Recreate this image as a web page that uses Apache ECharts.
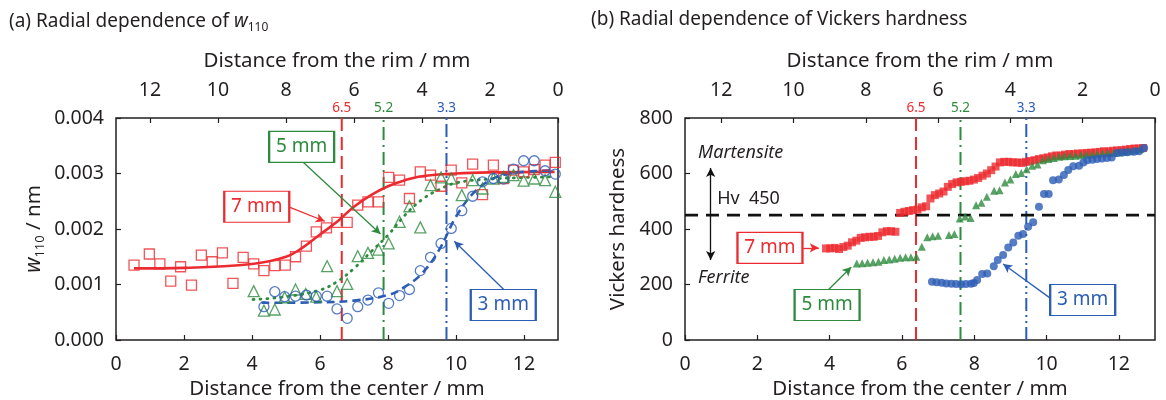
<!DOCTYPE html>
<html><head><meta charset="utf-8">
<script src="https://cdn.jsdelivr.net/npm/echarts@6/dist/echarts.min.js"></script>
<style>html,body{margin:0;padding:0;background:#fff}#c{width:1166px;height:400px}</style>
</head><body><div id="c"></div>
<script>
// ---------- data: panel (a) w110 [x in mm from center, y in 0.001 nm] ----------
const w7x = [0.53,0.98,1.29,1.61,1.90,2.22,2.51,2.83,3.13,3.44,3.74,4.05,4.35,4.67,4.98,5.28,5.60,5.89,6.19,6.50,6.80,7.11,7.41,7.72,8.02,8.34,8.63,8.95,9.25,9.56,9.86,10.17,10.49,10.78,11.10,11.40,11.69,11.99,12.30,12.62,12.92];
const w7y = [1.35,1.55,1.37,1.06,1.32,0.99,1.53,1.41,1.57,1.02,1.49,1.37,1.25,1.34,1.35,1.50,1.69,1.95,2.02,2.12,2.12,2.43,2.49,2.49,2.93,2.88,2.55,3.03,2.97,2.77,3.06,2.83,3.17,2.62,3.15,2.91,3.06,3.03,3.07,3.15,3.20];
const w5x = [4.05,4.35,4.67,4.96,5.28,5.58,5.89,6.21,6.50,6.80,7.11,7.41,7.72,8.02,8.34,8.63,8.95,9.25,9.56,9.86,10.17,10.49,10.78,11.10,11.40,11.69,11.99,12.30,12.62,12.92];
const w5y = [0.88,0.53,0.55,0.77,0.91,0.83,0.78,1.33,0.88,1.01,1.51,1.57,1.63,1.74,2.13,2.41,2.03,2.79,2.93,2.91,2.61,2.88,2.73,2.91,2.94,2.97,2.87,2.91,2.88,2.67];
const w3x = [4.35,4.67,4.96,5.28,5.60,5.89,6.21,6.50,6.80,7.11,7.41,7.72,8.02,8.34,8.63,8.95,9.25,9.56,9.86,10.17,10.49,10.78,11.10,11.40,11.69,11.99,12.30,12.62,12.92];
const w3y = [0.60,0.87,0.78,0.79,0.81,0.79,0.79,0.56,0.39,0.60,0.72,0.85,0.66,0.80,0.91,1.25,1.49,1.74,2.01,2.33,2.59,2.85,2.91,2.90,3.08,3.23,3.23,3.05,2.99];
// fitted curves
const fit7x = [0.53,2,4,5,5.5,6,6.5,7,7.5,8,8.5,9,10,11,12.9];
const fit7y = [1.29,1.30,1.37,1.50,1.67,1.90,2.13,2.40,2.61,2.77,2.88,2.95,3.00,3.02,3.03];
const fit5x = [4.03,5,6,6.5,7,7.5,8,8.5,9,9.5,10,11,12.9];
const fit5y = [0.73,0.78,0.90,1.05,1.29,1.59,1.89,2.25,2.53,2.71,2.83,2.90,2.94];
const fit3x = [4.28,6,7,8,8.5,9,9.5,10,10.5,11,11.5,12,12.9];
const fit3y = [0.67,0.68,0.71,0.81,0.96,1.20,1.62,2.22,2.64,2.88,2.99,3.03,3.06];

// ---------- data: panel (b) Vickers hardness ----------
const h7x = [3.90,4.02,4.14,4.26,4.38,4.50,4.62,4.74,4.86,4.98,5.10,5.22,5.34,5.46,5.58,5.70,5.82,5.95,6.07,6.19,6.31,6.43,6.55,6.67,6.79,6.91,7.03,7.15,7.27,7.39,7.51,7.63,7.75,7.87,7.99,8.11,8.23,8.35,8.47,8.59,8.71,8.83,8.95,9.07,9.19,9.31,9.43,9.55,9.67,9.79,9.91,10.03,10.15,10.27,10.39,10.51,10.63,10.75,10.87,10.99,11.11,11.23,11.35,11.47,11.59,11.71,11.83,11.95,12.07,12.19,12.31,12.43,12.55,12.67];
const h7y = [330,330,332,328,335,340,352,358,368,370,372,372,375,388,392,392,390,458,462,465,468,470,478,482,510,522,528,535,552,562,568,570,572,574,578,584,592,600,612,625,640,642,642,640,640,638,642,645,648,652,655,658,662,665,664,668,670,670,672,672,674,675,676,678,680,679,682,683,684,686,688,690,690,692];
const h5x = [4.75,4.90,5.05,5.20,5.35,5.50,5.65,5.80,5.95,6.10,6.25,6.40,6.55,6.70,6.85,7.00,7.30,7.45,7.60,7.75,7.90,8.05,8.20,8.35,8.55,8.70,8.85,9.00,9.15,9.30,9.45,9.60,9.75,9.90,10.05,10.20,10.35,10.50,10.65,10.80,10.95,11.10,11.25,11.40,11.55,11.70,11.85,12.00,12.15,12.30,12.45,12.60];
const h5y = [276,277,278,280,282,288,290,293,296,298,298,300,336,370,374,376,378,382,438,445,440,486,495,516,538,540,568,578,598,602,615,628,632,648,652,656,660,662,663,664,666,668,668,670,672,674,674,676,678,680,684,688];
const h3x = [6.83,6.96,7.10,7.23,7.37,7.50,7.64,7.77,7.91,7.99,8.08,8.22,8.36,8.54,8.65,8.80,8.94,9.08,9.22,9.35,9.49,9.63,9.79,9.93,10.06,10.18,10.34,10.48,10.60,10.74,10.90,11.02,11.13,11.27,11.40,11.53,11.67,11.80,11.96,12.10,12.24,12.42,12.56,12.70];
const h3y = [210,208,206,204,203,202,201,202,203,205,216,238,240,266,288,306,333,351,376,382,408,424,480,526,526,576,578,595,613,626,628,640,648,650,652,654,656,658,674,676,677,678,680,692];

// boundary lines (distance from center) and their rim labels
const linesA = [6.64, 7.87, 9.72];
const linesB = [6.39, 7.62, 9.44];
const lineLabels = ['6.5', '5.2', '3.3'];
const hvLevel = 450;
const xTicks = {min: 0, max: 13, interval: 2};
const yTicksA = {min: 0, max: 0.004, interval: 0.001};
const yTicksB = {min: 0, max: 800, interval: 200};

// ---------- styling ----------
const RED = '#ec2b30', GREEN = '#2e8b3e', BLUE = '#2c5db5', INK = '#231f20';
const FONT = '"Noto Sans", "Open Sans", sans-serif';
const TICK = 19.5, NAME = 20.5;
const lineColors = [RED, GREEN, BLUE];
const lineDash = [[13, 6], [13, 5, 2, 5], [13, 4, 2, 4, 2, 4]];

const zip = (xs, ys, k) => xs.map((x, i) => [x, ys[i] * k]);

function bottomAxis(g) {
  return {type: 'value', gridIndex: g, position: 'bottom', min: xTicks.min, max: xTicks.max, interval: xTicks.interval,
    axisLine: {show: false}, splitLine: {show: false},
    axisTick: {inside: true, length: 5, lineStyle: {color: INK, width: 1.2}},
    axisLabel: {margin: 14, fontSize: TICK, color: INK, fontFamily: FONT, showMaxLabel: false},
    name: 'Distance from the center / mm', nameLocation: 'middle', nameGap: 35,
    nameTextStyle: {fontSize: NAME, color: INK, fontFamily: FONT}};
}
function topAxis(g) {
  return {type: 'value', gridIndex: g, position: 'top', inverse: true, min: xTicks.min, max: xTicks.max, interval: xTicks.interval,
    axisLine: {show: false}, splitLine: {show: false},
    axisTick: {inside: true, length: 5, lineStyle: {color: INK, width: 1.2}},
    axisLabel: {margin: 18, fontSize: TICK, color: INK, fontFamily: FONT, showMaxLabel: false},
    name: 'Distance from the rim / mm', nameLocation: 'middle', nameGap: 46,
    nameTextStyle: {fontSize: NAME, color: INK, fontFamily: FONT}};
}
function vline(x, i, xi, yi, ymax) {
  return {type: 'line', xAxisIndex: xi, yAxisIndex: yi, symbol: 'circle', symbolSize: 0, silent: true, z: 1,
    itemStyle: {color: lineColors[i]},
    lineStyle: {color: lineColors[i], width: 2, type: lineDash[i]},
    data: [[x, 0], {value: [x, ymax], label: {show: true, position: 'top', distance: 3, formatter: lineLabels[i], color: lineColors[i], fontSize: 13.5, fontFamily: FONT}}]};
}
function box(coord, text, color) {
  return {coord, symbol: 'rect', symbolSize: [65, 31], itemStyle: {color: '#fff', borderColor: color, borderWidth: 1.6},
    label: {show: true, position: 'inside', formatter: text, color, fontSize: 19, fontFamily: FONT}};
}
function arrows(pairs, color, syms) {
  return {silent: true, symbol: syms || ['none', 'arrow'], symbolSize: [7, 9], animation: false,
    lineStyle: {color, width: 1.3, type: 'solid'}, label: {show: false},
    data: pairs.map(p => [{coord: p[0]}, {coord: p[1]}])};
}
function txt(coord, text, extra) {
  return {coord, symbol: 'circle', symbolSize: 0, itemStyle: {color: 'transparent'},
    label: Object.assign({show: true, position: 'right', distance: 0, formatter: text, color: INK, fontSize: 18, fontFamily: FONT}, extra || {})};
}
const hollow = c => ({color: 'rgba(255,255,255,0)', borderColor: c, borderWidth: 1.3});
const k = 0.001;

const option = {
  animation: false,
  backgroundColor: '#fff',
  title: [
    {left: 4, top: 5, text: '(a) Radial dependence of {i|w}{s|110}',
      textStyle: {fontSize: 19, fontWeight: 'normal', color: INK, fontFamily: FONT,
        rich: {i: {fontSize: 19, fontStyle: 'italic', color: INK, fontFamily: FONT, lineHeight: 24},
               s: {fontSize: 12, color: INK, fontFamily: FONT, verticalAlign: 'bottom', lineHeight: 12}}}},
    {left: 586, top: 5, text: '(b) Radial dependence of Vickers hardness',
      textStyle: {fontSize: 19, fontWeight: 'normal', color: INK, fontFamily: FONT}}
  ],
  grid: [
    {left: 116, top: 118, width: 442, height: 222, outerBoundsMode: 'none', containLabel: false,
      show: true, borderColor: INK, borderWidth: 1.5, backgroundColor: 'transparent'},
    {left: 685, top: 118, width: 470, height: 222, outerBoundsMode: 'none', containLabel: false,
      show: true, borderColor: INK, borderWidth: 1.5, backgroundColor: 'transparent'}
  ],
  xAxis: [bottomAxis(0), topAxis(0), bottomAxis(1), topAxis(1)],
  yAxis: [
    {type: 'value', gridIndex: 0, min: yTicksA.min, max: yTicksA.max, interval: yTicksA.interval,
      axisLine: {show: false}, splitLine: {show: false},
      axisTick: {inside: true, length: 5, lineStyle: {color: INK, width: 1.2}},
      axisLabel: {margin: 12, fontSize: TICK, color: INK, fontFamily: FONT, formatter: v => v.toFixed(3)},
      name: '{i|w}{s|110}{n| / nm}', nameLocation: 'middle', nameGap: 69, nameRotate: 90,
      nameTextStyle: {fontSize: NAME, color: INK, fontFamily: FONT,
        rich: {i: {fontSize: 21, fontStyle: 'italic', color: INK, fontFamily: FONT, lineHeight: 26},
               s: {fontSize: 13, color: INK, fontFamily: FONT, verticalAlign: 'bottom', lineHeight: 13},
               n: {fontSize: NAME, color: INK, fontFamily: FONT, lineHeight: 26}}}},
    {type: 'value', gridIndex: 1, min: yTicksB.min, max: yTicksB.max, interval: yTicksB.interval,
      axisLine: {show: false}, splitLine: {show: false},
      axisTick: {inside: true, length: 5, lineStyle: {color: INK, width: 1.2}},
      axisLabel: {margin: 12, fontSize: TICK, color: INK, fontFamily: FONT},
      name: 'Vickers hardness', nameLocation: 'middle', nameGap: 56, nameRotate: 90,
      nameTextStyle: {fontSize: NAME, color: INK, fontFamily: FONT}}
  ],
  series: [
    // ---- panel (a)
    vline(linesA[0], 0, 0, 0, yTicksA.max), vline(linesA[1], 1, 0, 0, yTicksA.max), vline(linesA[2], 2, 0, 0, yTicksA.max),
    {type: 'line', xAxisIndex: 0, yAxisIndex: 0, smooth: 0.4, symbol: 'none', z: 2, data: zip(fit7x, fit7y, k), lineStyle: {color: RED, width: 2.6}},
    {type: 'line', xAxisIndex: 0, yAxisIndex: 0, smooth: 0.4, symbol: 'none', z: 2, data: zip(fit5x, fit5y, k), lineStyle: {color: GREEN, width: 2.8, type: [1, 6], cap: 'round'}},
    {type: 'line', xAxisIndex: 0, yAxisIndex: 0, smooth: 0.4, symbol: 'none', z: 2, data: zip(fit3x, fit3y, k), lineStyle: {color: BLUE, width: 2.6, type: [8, 5]}},
    {type: 'scatter', xAxisIndex: 0, yAxisIndex: 0, symbol: 'rect', symbolSize: 10, z: 3, data: zip(w7x, w7y, k), itemStyle: hollow(RED),
      markPoint: {silent: true, animation: false, data: [box([4.14, 0.0024], '7 mm', RED)]},
      markLine: arrows([[[5.08, 0.0024], [6.14, 0.00214]]], RED)},
    {type: 'scatter', xAxisIndex: 0, yAxisIndex: 0, symbol: 'triangle', symbolSize: 11, z: 3, data: zip(w5x, w5y, k), itemStyle: hollow(GREEN),
      markPoint: {silent: true, animation: false, data: [box([5.46, 0.00348], '5 mm', GREEN)]},
      markLine: arrows([[[5.49, 0.00321], [7.78, 0.00191]]], GREEN)},
    {type: 'scatter', xAxisIndex: 0, yAxisIndex: 0, symbol: 'circle', symbolSize: 10, z: 3, data: zip(w3x, w3y, k), itemStyle: hollow(BLUE),
      markPoint: {silent: true, animation: false, data: [box([11.39, 0.00063], '3 mm', BLUE)]},
      markLine: arrows([[[11.42, 0.0009], [9.95, 0.00178]]], BLUE)},
    // ---- panel (b)
    vline(linesB[0], 0, 2, 1, yTicksB.max), vline(linesB[1], 1, 2, 1, yTicksB.max), vline(linesB[2], 2, 2, 1, yTicksB.max),
    {type: 'line', xAxisIndex: 2, yAxisIndex: 1, symbol: 'none', silent: true, z: 2,
      data: [[xTicks.min, hvLevel], [xTicks.max, hvLevel]], lineStyle: {color: '#111', width: 2.8, type: [13, 8]},
      markPoint: {silent: true, animation: false, data: [
        txt([0.36, 674], 'Martensite', {fontStyle: 'italic'}),
        txt([0.36, 223], 'Ferrite', {fontStyle: 'italic'}),
        txt([0.89, 508], 'Hv  450')]},
      markLine: arrows([[[0.71, 288], [0.71, 620]]], '#111', ['arrow', 'arrow'])},
    {type: 'scatter', xAxisIndex: 2, yAxisIndex: 1, symbol: 'rect', symbolSize: 8, z: 3, data: zip(h7x, h7y, 1), itemStyle: {color: RED},
      markPoint: {silent: true, animation: false, data: [box([2.35, 332], '7 mm', RED)]},
      markLine: arrows([[[3.27, 332], [3.7, 332]]], RED)},
    {type: 'scatter', xAxisIndex: 2, yAxisIndex: 1, symbol: 'triangle', symbolSize: 8, z: 3, data: zip(h5x, h5y, 1), itemStyle: {color: GREEN},
      markPoint: {silent: true, animation: false, data: [box([3.93, 126], '5 mm', GREEN)]},
      markLine: arrows([[[3.96, 180], [4.6, 263]]], GREEN)},
    {type: 'scatter', xAxisIndex: 2, yAxisIndex: 1, symbol: 'circle', symbolSize: 8, z: 3, data: zip(h3x, h3y, 1), itemStyle: {color: BLUE},
      markPoint: {silent: true, animation: false, data: [box([11.0, 144], '3 mm', BLUE)]},
      markLine: arrows([[[10.11, 150], [8.8, 274]]], BLUE)}
  ]
};
const chart = echarts.init(document.getElementById('c'));
chart.setOption(option);
</script></body></html>
